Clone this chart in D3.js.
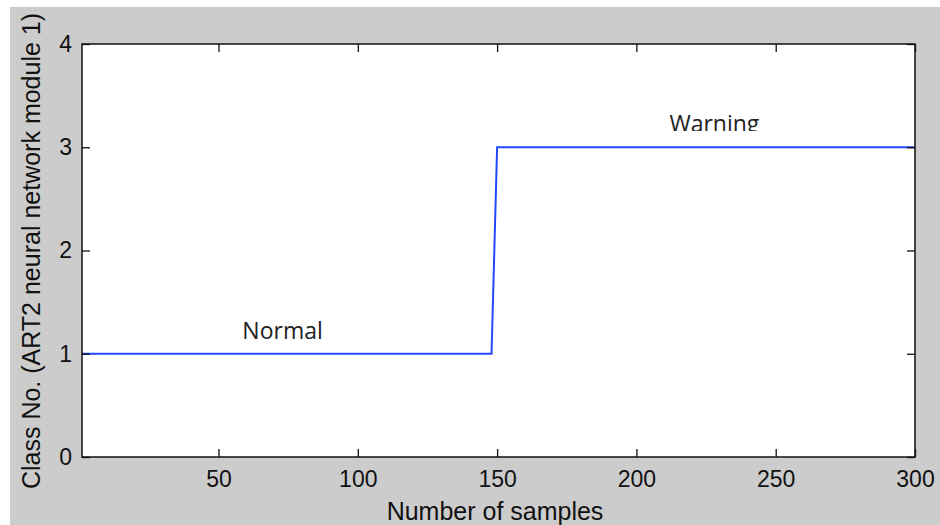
<!DOCTYPE html>
<html>
<head>
<meta charset="utf-8">
<script src="https://cdn.jsdelivr.net/npm/d3@7/dist/d3.min.js"></script>
<style>
  body { margin: 0; background: #fff; }
  svg { display: block; }
</style>
</head>
<body>
<svg width="940" height="525"></svg>
<script>
// samples where the class changes (plot connects them as a line)
var samples = [1, 148, 150, 300];
var classNo = [1, 1, 3, 3];
var xTicks = [50, 100, 150, 200, 250, 300];
var yTicks = [0, 1, 2, 3, 4];
var labels = [{text: "Normal", x: 73, y: 1}, {text: "Warning", x: 228, y: 3}];

var data = samples.map(function(d, i){ return {x: d, y: classNo[i]}; });

var svg = d3.select("svg");
var m = {left: 82, right: 915, top: 44, bottom: 457};

var xScale = d3.scaleLinear().domain([1, 300]).range([m.left, m.right]);
var yScale = d3.scaleLinear().domain([0, 4]).range([m.bottom, m.top]);

// figure background
svg.append("rect").attr("x", 10).attr("y", 7).attr("width", 930).attr("height", 518)
   .attr("fill", "#cccccc");
// axes background
svg.append("rect").attr("x", m.left).attr("y", m.top)
   .attr("width", m.right - m.left).attr("height", m.bottom - m.top).attr("fill", "#fff");

svg.append("defs").append("clipPath").attr("id", "clip")
   .append("rect").attr("x", m.left).attr("y", m.top).attr("width", m.right - m.left).attr("height", 131 - m.top);

// line
var linemaker = d3.line()
   .x(function(d){ return xScale(d.x); })
   .y(function(d){ return yScale(d.y); });
svg.append("path")
   .attr("d", linemaker(data))
   .attr("fill", "none")
   .attr("stroke", "#2448ff")
   .attr("stroke-width", 2);

// axes (ticks inside, on all four sides)
var font = "'Liberation Sans', Arial, sans-serif";
var tick = 8;
function styleAxis(g){
  g.select(".domain").remove();
  g.selectAll("line").attr("stroke", "#111").attr("stroke-width", 1.3);
  g.selectAll("text").attr("font-family", font).attr("font-size", 23).attr("fill", "#111");
}
svg.append("g").attr("transform", "translate(0," + m.bottom + ")")
   .call(d3.axisBottom(xScale).tickValues(xTicks).tickSize(-tick).tickPadding(14))
   .call(styleAxis);
svg.append("g").attr("transform", "translate(0," + m.top + ")")
   .call(d3.axisTop(xScale).tickValues(xTicks).tickSize(-tick).tickFormat(""))
   .call(styleAxis);
svg.append("g").attr("transform", "translate(" + m.left + ",0)")
   .call(d3.axisLeft(yScale).tickValues(yTicks).tickSize(-tick).tickPadding(10).tickFormat(d3.format("d")))
   .call(styleAxis);
svg.append("g").attr("transform", "translate(" + m.right + ",0)")
   .call(d3.axisRight(yScale).tickValues(yTicks).tickSize(-tick).tickFormat(""))
   .call(styleAxis);

// box
svg.append("rect").attr("x", m.left).attr("y", m.top)
   .attr("width", m.right - m.left).attr("height", m.bottom - m.top)
   .attr("fill", "none").attr("stroke", "#111").attr("stroke-width", 1.5);

// axis titles
svg.append("text").attr("x", 495).attr("y", 520)
   .attr("text-anchor", "middle").attr("font-family", font).attr("font-size", 25)
   .attr("fill", "#111").text("Number of samples");
svg.append("text").attr("transform", "translate(40,251) rotate(-90)")
   .attr("text-anchor", "middle").attr("font-family", font).attr("font-size", 25)
   .attr("fill", "#111").text("Class No. (ART2 neural network module 1)");

// annotations
svg.selectAll(".note").data(labels).enter().append("text")
   .attr("class", "note")
   .attr("x", function(d){ return xScale(d.x); })
   .attr("y", function(d){ return yScale(d.y) - 15; })
   .attr("text-anchor", "middle")
   .attr("font-family", "'Open Sans', sans-serif").attr("font-size", 23)
   .attr("fill", "#222")
   .attr("clip-path", function(d){ return d.text == "Warning" ? "url(#clip)" : null; })
   .text(function(d){ return d.text; });
</script>
</body>
</html>
